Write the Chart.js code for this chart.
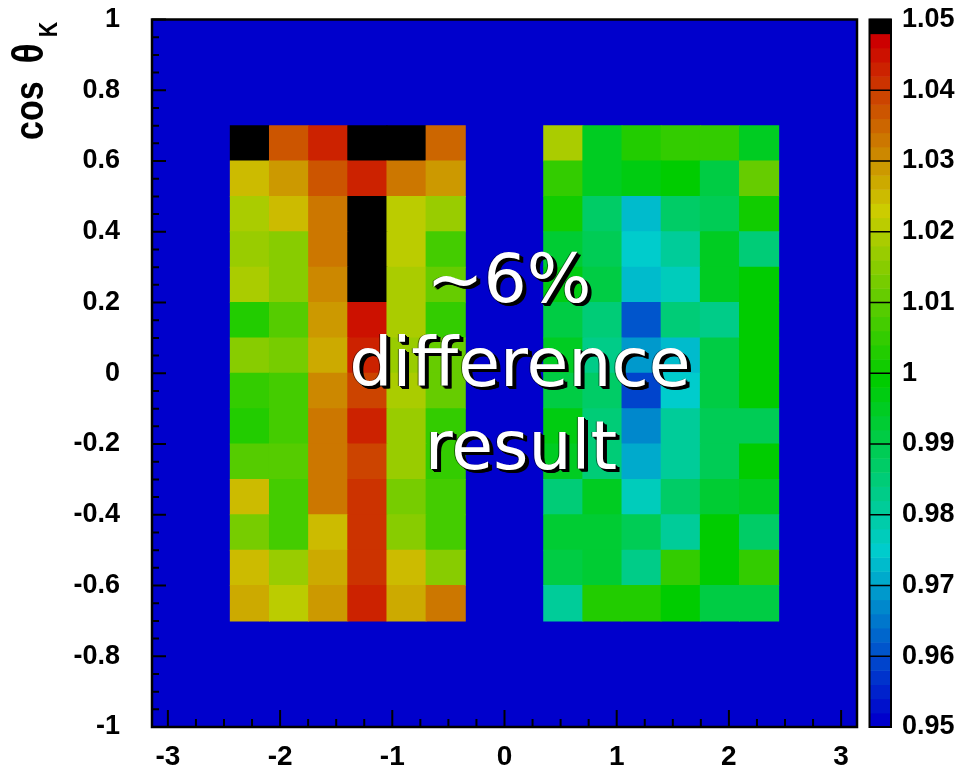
<!DOCTYPE html>
<html>
<head>
<meta charset="utf-8">
<script src="https://cdn.jsdelivr.net/npm/chart.js@4"></script>
<style>
html,body{margin:0;padding:0;background:#fff;}
#wrap{position:relative;width:964px;height:772px;overflow:hidden;}
#c{position:absolute;left:0;top:0;}
.note{position:absolute;width:600px;text-align:center;font-family:"DejaVu Sans";font-size:68px;line-height:68px;color:#fff;white-space:nowrap;
 text-shadow:1px 1px 0 #000,2px 2px 0 #000,3px 3px 0 #000,4px 3px 0 #000,-1px 0 0 rgba(0,0,0,0.5);}
</style>
</head>
<body>
<div id="wrap">
<canvas id="c" width="964" height="772"></canvas>
<div class="note" style="left:209px;top:245px">~6%</div>
<div class="note" style="left:220px;top:329px">difference</div>
<div class="note" style="left:221px;top:412px">result</div>
</div>
<script>
// ---- data ----
const zMin = 0.95, zMax = 1.05, zStep = 0.002;
const phiNeg = [-2.269, -1.920, -1.571, -1.222, -0.873, -0.524];
const phiPos = [0.524, 0.873, 1.222, 1.571, 1.920, 2.269];
const cosEdges = [0.7, 0.6, 0.5, 0.4, 0.3, 0.2, 0.1, 0.0, -0.1, -0.2, -0.3, -0.4, -0.5, -0.6, -0.7];
const ratioNegPhi = [
 [1.051, 1.037, 1.042, 1.051, 1.051, 1.035],
 [1.024, 1.029, 1.036, 1.042, 1.033, 1.029],
 [1.019, 1.024, 1.033, 1.051, 1.021, 1.017],
 [1.017, 1.015, 1.033, 1.051, 1.021, 1.007],
 [1.019, 1.015, 1.031, 1.051, 1.019, 1.011],
 [1.003, 1.009, 1.029, 1.044, 1.019, 1.005],
 [1.015, 1.012, 1.027, 1.042, 1.017, 1.011],
 [1.005, 1.007, 1.031, 1.039, 1.019, 1.011],
 [1.003, 1.007, 1.033, 1.043, 1.017, 1.005],
 [1.009, 1.009, 1.033, 1.038, 1.017, 1.005],
 [1.024, 1.007, 1.033, 1.040, 1.013, 1.007],
 [1.012, 1.007, 1.024, 1.040, 1.015, 1.007],
 [1.024, 1.017, 1.027, 1.040, 1.024, 1.015],
 [1.027, 1.021, 1.029, 1.042, 1.027, 1.033]
];
const ratioPosPhi = [
 [1.019, 0.995, 1.003, 1.005, 1.005, 0.995],
 [1.005, 0.995, 0.997, 0.999, 0.991, 1.011],
 [1.001, 0.987, 0.973, 0.987, 0.989, 1.001],
 [0.993, 0.989, 0.975, 0.981, 0.995, 0.985],
 [0.997, 0.991, 0.973, 0.976, 0.995, 0.999],
 [0.991, 0.985, 0.960, 0.985, 0.983, 0.999],
 [0.995, 0.983, 0.969, 0.973, 0.991, 0.999],
 [0.991, 0.987, 0.959, 0.975, 0.991, 0.999],
 [0.997, 0.985, 0.967, 0.981, 0.989, 0.989],
 [0.995, 0.985, 0.970, 0.981, 0.989, 0.999],
 [0.985, 0.995, 0.977, 0.987, 0.993, 0.995],
 [0.993, 0.993, 0.989, 0.981, 0.999, 0.987],
 [0.991, 0.993, 0.983, 1.005, 0.999, 1.005],
 [0.981, 1.003, 1.003, 0.999, 0.991, 0.991]
];
const xTickValues = [-3, -2, -1, 0, 1, 2, 3];
const yTickValues = [-1, -0.8, -0.6, -0.4, -0.2, 0, 0.2, 0.4, 0.6, 0.8, 1];
const zTickValues = [0.95, 0.96, 0.97, 0.98, 0.99, 1, 1.01, 1.02, 1.03, 1.04, 1.05];

// ---- palette ----
const NCOL = 50;
function paletteColor(k) {
  if (k >= NCOL - 1) return 'rgb(0,0,0)';
  const h = 240 - 5 * k, v = 204;
  let r, g, b;
  if (h >= 180) { r = 0; b = v; g = Math.round(v * (240 - h) / 60); }
  else if (h >= 120) { r = 0; g = v; b = Math.round(v * (h - 120) / 60); }
  else if (h >= 60) { g = v; b = 0; r = Math.round(v * (120 - h) / 60); }
  else { r = v; b = 0; g = Math.round(v * h / 60); }
  return `rgb(${r},${g},${b})`;
}
function colorFor(val) {
  let k = Math.floor((val - zMin) / zStep + 1e-9);
  k = Math.max(0, Math.min(NCOL - 1, k));
  return paletteColor(k);
}

const cells = [], cellColors = [];
function addBlock(phis, rows) {
  rows.forEach((row, i) => row.forEach((val, j) => {
    cells.push({ x: phis[j], y: [cosEdges[i + 1], cosEdges[i]], v: val });
    cellColors.push(colorFor(val));
  }));
}
addBlock(phiNeg, ratioNegPhi);
addBlock(phiPos, ratioPosPhi);

const FONT = 'Liberation Sans';

const framePlugin = {
  id: 'frame',
  beforeDatasetsDraw(chart) {
    const { ctx, chartArea: a } = chart;
    ctx.save();
    ctx.fillStyle = paletteColor(0);
    ctx.fillRect(a.left, a.top, a.right - a.left, a.bottom - a.top);
    ctx.restore();
  },
  afterDatasetsDraw(chart) {
    const { ctx, chartArea: a } = chart;
    const xs = chart.scales.x, ys = chart.scales.y;
    ctx.save();
    ctx.strokeStyle = '#000';
    ctx.lineWidth = 2;
    ctx.beginPath();
    for (let i = -20; i <= 20; i++) {
      const py = ys.getPixelForValue(i * 0.05);
      const len = (i % 4 === 0) ? 14 : 7;
      ctx.moveTo(a.left, py); ctx.lineTo(a.left + len, py);
    }
    for (let i = -12; i <= 12; i++) {
      const px = xs.getPixelForValue(i * 0.25);
      const len = (i % 4 === 0) ? 17 : 8;
      ctx.moveTo(px, a.bottom); ctx.lineTo(px, a.bottom - len);
    }
    ctx.stroke();
    ctx.lineWidth = 2.5;
    ctx.strokeRect(a.left, a.top, a.right - a.left, a.bottom - a.top);
    ctx.restore();
  },
  afterDraw(chart) {
    const { ctx } = chart;
    const zs = chart.scales.z;
    const x0 = 869.5, x1 = 891;
    ctx.save();
    for (let k = 0; k < NCOL; k++) {
      const yb = zs.getPixelForValue(zMin + k * zStep);
      const yt = zs.getPixelForValue(zMin + (k + 1) * zStep);
      ctx.fillStyle = paletteColor(k);
      ctx.fillRect(x0, yt, x1 - x0, yb - yt + 0.5);
    }
    ctx.strokeStyle = '#000';
    ctx.lineWidth = 1.5;
    ctx.beginPath();
    zTickValues.forEach(v => { const p = zs.getPixelForValue(v); ctx.moveTo(x0, p); ctx.lineTo(x1, p); });
    ctx.stroke();
    ctx.lineWidth = 2;
    ctx.strokeRect(x0, zs.getPixelForValue(zMax), x1 - x0, zs.getPixelForValue(zMin) - zs.getPixelForValue(zMax));
    // y axis title: cos θ_K
    ctx.fillStyle = '#000';
    ctx.translate(43, 140);
    ctx.rotate(-Math.PI / 2);
    ctx.textAlign = 'left';
    ctx.textBaseline = 'alphabetic';
    ctx.save();
    ctx.scale(0.85, 1);
    ctx.font = `bold 40px "${FONT}"`;
    ctx.fillText('cos', 0, 0);
    ctx.font = `bold 44px "${FONT}"`;
    ctx.fillText('θ', 90, 0);
    ctx.font = `bold 25px "${FONT}"`;
    ctx.fillText('K', 121, 14);
    ctx.restore();
    ctx.restore();
  }
};

const tickFont = { family: FONT, weight: 'bold', size: 27 };

new Chart(document.getElementById('c').getContext('2d'), {
  type: 'bar',
  data: {
    datasets: [{
      data: cells,
      backgroundColor: cellColors,
      borderWidth: 0,
      barPercentage: 1,
      categoryPercentage: 1,
      inflateAmount: 0.5
    }]
  },
  options: {
    responsive: false,
    animation: false,
    devicePixelRatio: 1,
    events: [],
    layout: { padding: { top: 19.5, left: 0, right: 0, bottom: 0 } },
    plugins: { legend: { display: false }, tooltip: { enabled: false } },
    scales: {
      x: {
        type: 'linear', min: -Math.PI, max: Math.PI, offset: false,
        afterBuildTicks: s => { s.ticks = xTickValues.map(v => ({ value: v })); },
        afterFit: s => { s.height = 45; },
        grid: { display: false, drawTicks: true, tickLength: 13, offset: false },
        border: { display: false },
        ticks: { padding: 0, color: '#000', font: { family: FONT, weight: 'bold', size: 28 }, autoSkip: false, maxRotation: 0,
                 callback: v => String(v) }
      },
      y: {
        type: 'linear', min: -1, max: 1,
        afterBuildTicks: s => { s.ticks = yTickValues.map(v => ({ value: v })); },
        afterFit: s => { s.width = 152; },
        grid: { display: false, drawTicks: true, tickLength: 32 },
        border: { display: false },
        ticks: { padding: 0, color: '#000', font: tickFont, autoSkip: false,
                 callback: v => String(Number(v.toFixed(1))) }
      },
      z: {
        axis: 'y', type: 'linear', position: 'right', min: zMin, max: zMax,
        afterBuildTicks: s => { s.ticks = zTickValues.map(v => ({ value: v })); },
        afterFit: s => { s.width = 107; },
        grid: { display: false, drawTicks: true, tickLength: 45 },
        border: { display: false },
        ticks: { padding: 0, color: '#000', font: tickFont, autoSkip: false,
                 callback: v => String(Number(v.toFixed(2))) }
      }
    }
  },
  plugins: [framePlugin]
});
</script>
</body>
</html>
